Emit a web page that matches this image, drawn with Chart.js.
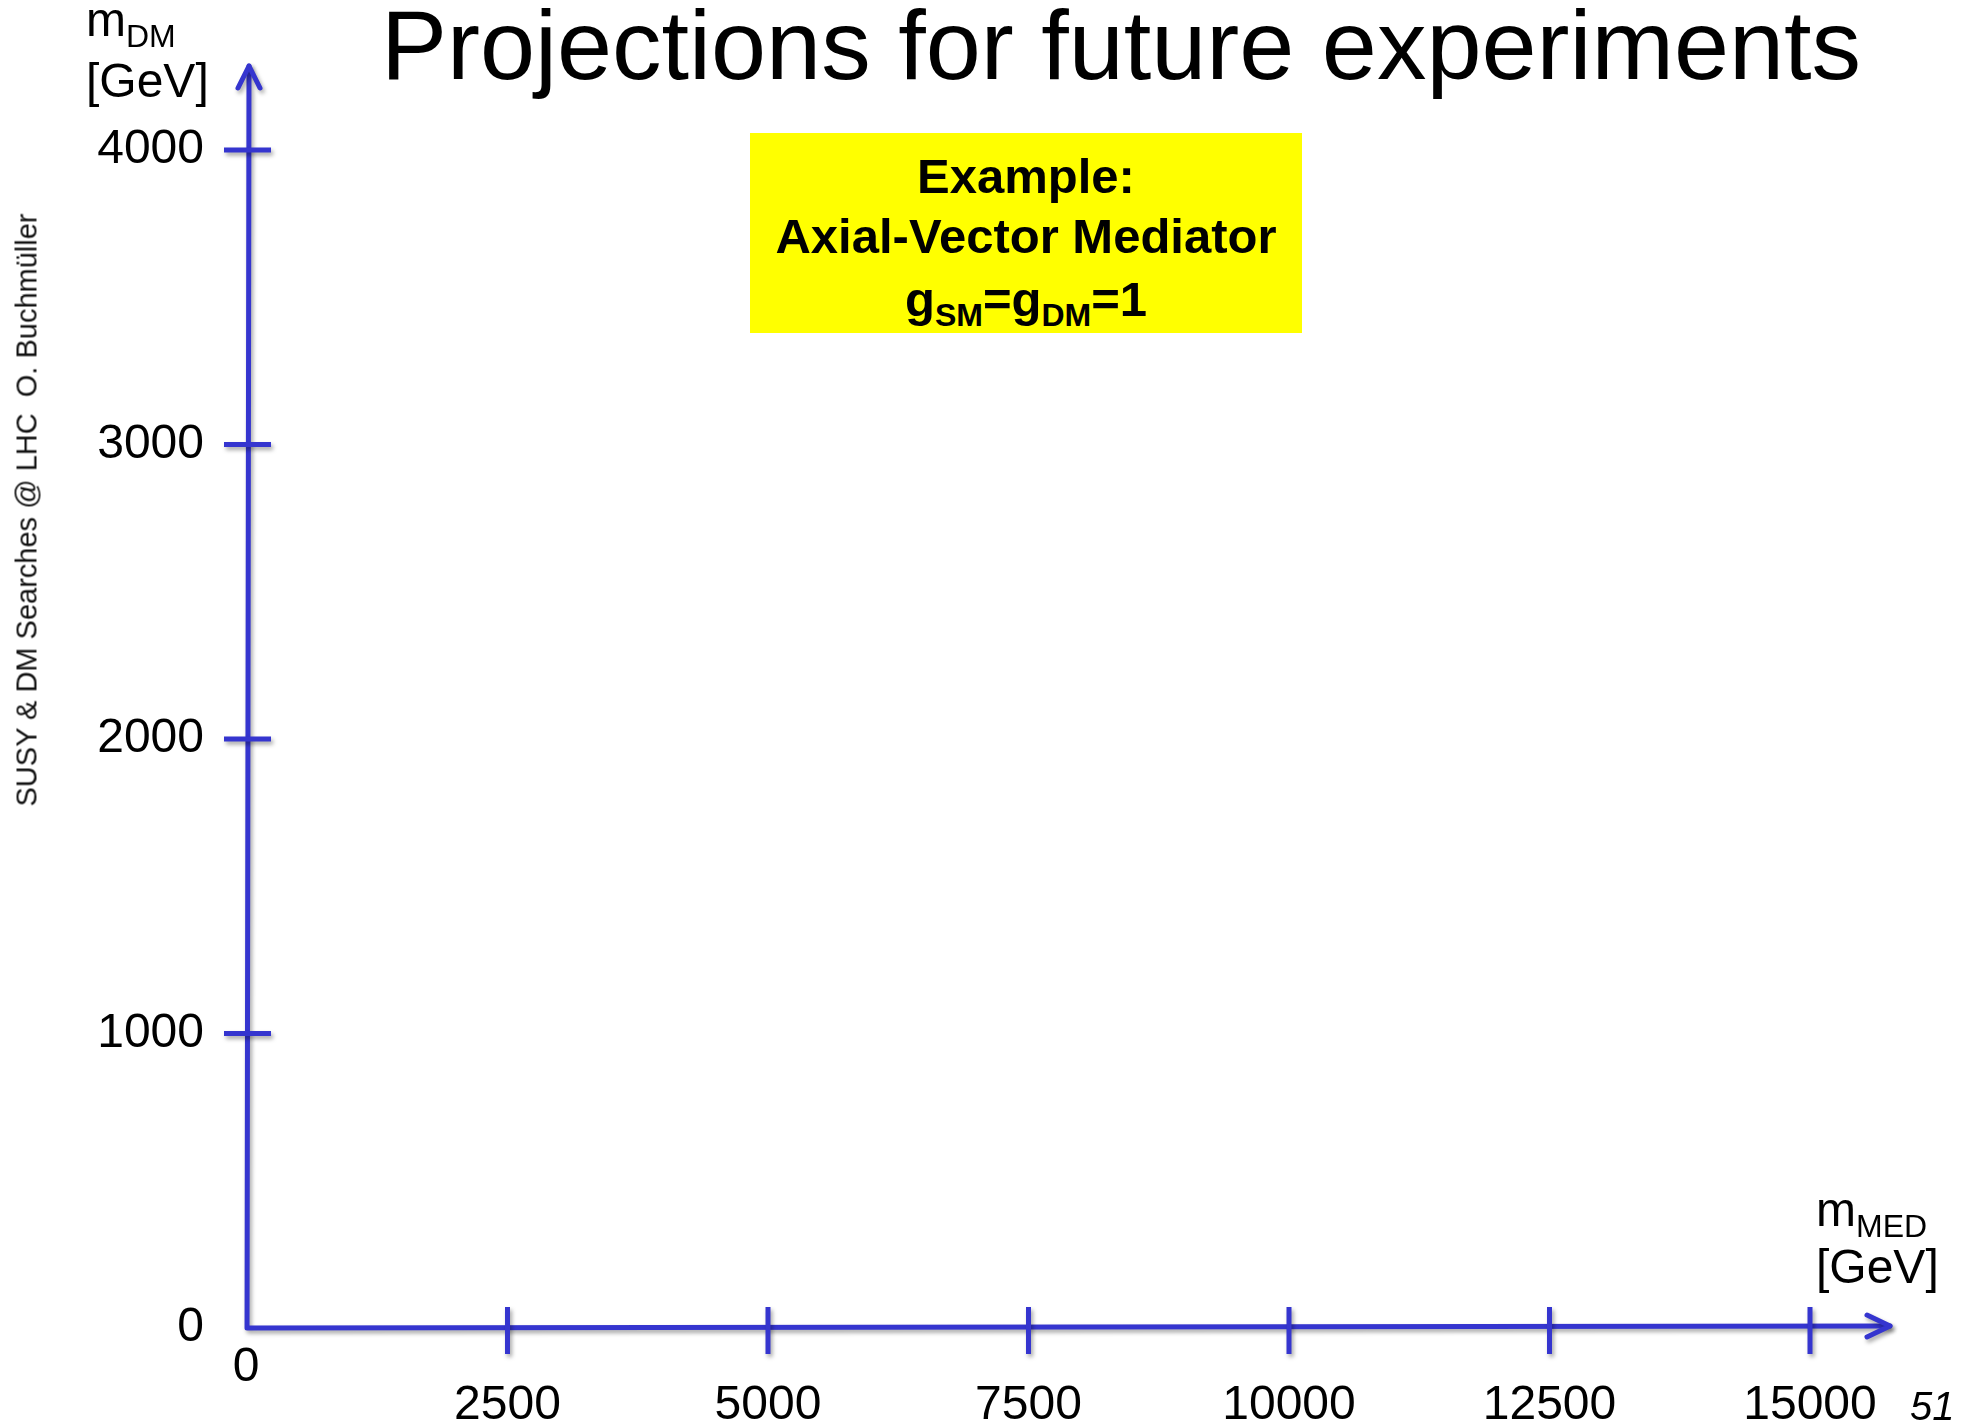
<!DOCTYPE html>
<html>
<head>
<meta charset="utf-8">
<title>Projections for future experiments</title>
<script src="https://cdn.jsdelivr.net/npm/chart.js@4.4.1/dist/chart.umd.min.js"></script>
<style>
  html, body { margin: 0; padding: 0; background: #fff; }
  #slide {
    position: relative; width: 1972px; height: 1425px; overflow: hidden;
    font-family: "Liberation Sans", Arial, Helvetica, sans-serif; color: #000;
  }
  #slide canvas { position: absolute; left: 0; top: 0; }
  .abs { position: absolute; white-space: nowrap; }

  #title { left: 1121px; top: -5px; transform: translateX(-50%); font-size: 99px; line-height: 99px; }

  #note {
    left: 750px; top: 133px; width: 552px; height: 200px; box-sizing: border-box;
    padding-top: 13px; background: #ffff00; text-align: center;
    font-weight: bold; font-size: 49px; line-height: 60px;
  }
  #note .l3 { display: block; margin-top: 3px; }
  #note sub { font-size: 32px; line-height: 0; vertical-align: -10px; }

  .axname { font-size: 48px; line-height: 48px; }
  .axname sub { font-size: 32px; line-height: 0; vertical-align: -11px; }

  #side {
    left: 27px; top: 510px; transform: translate(-50%, -50%) rotate(-90deg);
    font-size: 29px; line-height: 29px; color: #111;
  }
  #page { left: 1910px; top: 1386px; font-size: 40px; line-height: 40px; font-style: italic; }
</style>
</head>
<body>
<div id="slide">
  <canvas id="frame" width="1972" height="1425"></canvas>

  <div class="abs" id="title">Projections for future experiments</div>

  <div class="abs" id="note">
    Example:<br>
    Axial-Vector Mediator<br>
    <span class="l3">g<sub>SM</sub>=g<sub>DM</sub>=1</span>
  </div>

  <div class="abs axname" style="left:86px; top:-4px;">m<sub>DM</sub></div>
  <div class="abs axname" style="left:86px; top:57px;">[GeV]</div>

  <div class="abs axname" style="left:1816px; top:1186px;">m<sub>MED</sub></div>
  <div class="abs axname" style="left:1816px; top:1243px;">[GeV]</div>

  <div class="abs" id="side">SUSY &amp; DM Searches @ LHC&nbsp; O. Buchmüller</div>
  <div class="abs" id="page">51</div>
</div>

<script>
// ---------------------------------------------------------------
//  Axis data (the slide is an empty frame: no limits drawn yet)
// ---------------------------------------------------------------
const X_TICKS = [0, 2500, 5000, 7500, 10000, 12500, 15000];   // m_MED [GeV]
const Y_TICKS = [0, 1000, 2000, 3000, 4000];                  // m_DM  [GeV]
const X_RANGE = [0, 15000];
const Y_RANGE = [0, 4000];
const POINTS  = [];   // nothing plotted on this slide

const AXIS_BLUE = "#3535cf";
const FONT = '"Liberation Sans", Arial, Helvetica, sans-serif';

Chart.defaults.font.family = FONT;
Chart.defaults.color = "#000";

// ---------------------------------------------------------------
//  Hand-drawn style axes: arrows + ticks crossing the axis line
// ---------------------------------------------------------------
const arrowAxes = {
  id: "arrowAxes",
  afterDraw(chart) {
    const { ctx: c, scales: { x, y } } = chart;
    const x0 = x.getPixelForValue(X_RANGE[0]);
    const y0 = y.getPixelForValue(Y_RANGE[0]);
    const yTip = y.getPixelForValue(Y_RANGE[1]) - 84;
    const xTip = x.getPixelForValue(X_RANGE[1]) + 80;

    c.save();
    c.strokeStyle = AXIS_BLUE;
    c.lineWidth = 5;
    c.lineCap = "round";
    c.lineJoin = "round";
    c.shadowColor = "rgba(0,0,0,0.35)";
    c.shadowBlur = 4;
    c.shadowOffsetX = 2;
    c.shadowOffsetY = 3;

    // axis lines
    c.beginPath();
    c.moveTo(x0 + 2, yTip);
    c.lineTo(x0, y0);
    c.lineTo(xTip, y0 - 2);
    c.stroke();

    // arrow heads
    c.beginPath();
    c.moveTo(x0 - 9, yTip + 22);
    c.lineTo(x0 + 2, yTip);
    c.lineTo(x0 + 13, yTip + 22);
    c.moveTo(xTip - 23, y0 - 13);
    c.lineTo(xTip, y0 - 2);
    c.lineTo(xTip - 23, y0 + 9);
    c.stroke();

    // tick marks
    c.lineCap = "butt";
    c.beginPath();
    Y_TICKS.filter(v => v !== 0).forEach(v => {
      const py = y.getPixelForValue(v);
      c.moveTo(x0 - 23, py);
      c.lineTo(x0 + 24, py);
    });
    X_TICKS.filter(v => v !== 0).forEach(v => {
      const px = x.getPixelForValue(v);
      c.moveTo(px, y0 - 21);
      c.lineTo(px, y0 + 26);
    });
    c.stroke();
    c.restore();

    // the x-axis "0" sits closer to the axis than the other labels
    c.save();
    c.fillStyle = "#000";
    c.font = "48px " + FONT;
    c.textAlign = "center";
    c.textBaseline = "middle";
    c.fillText("0", x0 - 1, y0 + 40);
    c.restore();
  },
};

new Chart(document.getElementById("frame"), {
  type: "scatter",
  data: {
    datasets: [{ data: POINTS, pointRadius: 0 }],
  },
  options: {
    responsive: false,
    animation: false,
    devicePixelRatio: 1,
    layout: { padding: { left: 0, right: 162, top: 150, bottom: 0 } },
    plugins: { legend: { display: false }, tooltip: { enabled: false } },
    scales: {
      x: {
        type: "linear",
        min: X_RANGE[0],
        max: X_RANGE[1],
        afterBuildTicks: s => { s.ticks = X_TICKS.map(v => ({ value: v })); },
        afterFit: s => { s.height = 97; },
        grid: { display: false },
        border: { display: false },
        ticks: {
          padding: 41,
          maxRotation: 0,
          autoSkip: false,
          font: { size: 48 },
          color: "#000",
          callback: v => (v === 0 ? "" : String(v)),
        },
      },
      y: {
        type: "linear",
        min: Y_RANGE[0],
        max: Y_RANGE[1],
        afterBuildTicks: s => { s.ticks = Y_TICKS.map(v => ({ value: v })); },
        afterFit: s => { s.width = 247; },
        grid: { display: false },
        border: { display: false },
        ticks: {
          padding: 35,
          autoSkip: false,
          font: { size: 48 },
          color: "#000",
          callback: v => String(v),
        },
      },
    },
  },
  plugins: [arrowAxes],
});
</script>
</body>
</html>
